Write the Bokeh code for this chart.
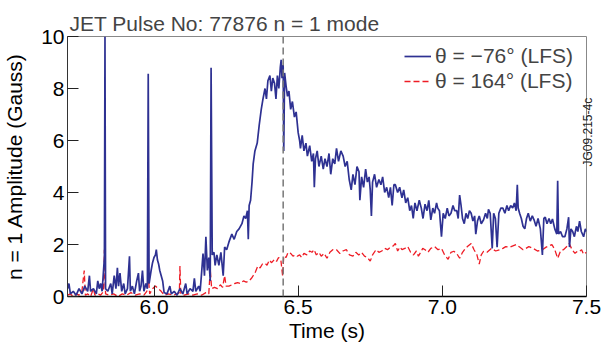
from bokeh.plotting import figure
from bokeh.models import (ColumnDataSource, Span, Legend, LegendItem, LinearAxis,
                          FixedTicker, PrintfTickFormatter, Range1d)
from bokeh.embed import file_html
from bokeh.resources import INLINE
import math

title_text = "JET Pulse No: 77876 n = 1 mode"
x_label = "Time (s)"
y_label = "n = 1 Amplitude (Gauss)"
series_names = ["\u03b8 = \u221276\u00b0 (LFS)", "\u03b8 = 164\u00b0 (LFS)"]
x_ticks = [6.0, 6.5, 7.0, 7.5]
y_ticks = [0, 2, 4, 6, 8, 10]
marker_time = 6.448
side_note = "JG09.215-4c"

blue_t = [5.700, 5.705, 5.710, 5.720, 5.730, 5.740, 5.750, 5.760, 5.770, 5.776,
          5.780, 5.790, 5.800, 5.805, 5.810, 5.815, 5.820, 5.828, 5.830, 5.832,
          5.840, 5.850, 5.855, 5.862, 5.868, 5.873, 5.877, 5.882, 5.888, 5.895,
          5.900, 5.908, 5.915, 5.918, 5.925, 5.932, 5.940, 5.946, 5.950, 5.955,
          5.960, 5.965, 5.972, 5.977, 5.980, 5.983, 5.990, 5.995, 6.000, 6.005,
          6.008, 6.012, 6.016, 6.020, 6.025, 6.030, 6.035, 6.045, 6.055, 6.060,
          6.070, 6.080, 6.090, 6.100, 6.110, 6.115, 6.125, 6.135, 6.140, 6.145,
          6.155, 6.160, 6.165, 6.170, 6.175, 6.180, 6.185, 6.190, 6.195, 6.198,
          6.202, 6.208, 6.212, 6.218, 6.225, 6.232, 6.240, 6.245, 6.252, 6.260,
          6.270, 6.278, 6.287, 6.295, 6.305, 6.312, 6.318, 6.324, 6.327, 6.330,
          6.335, 6.340, 6.344, 6.350, 6.358, 6.365, 6.372, 6.378, 6.385, 6.390,
          6.395, 6.402, 6.407, 6.412, 6.418, 6.423, 6.428, 6.433, 6.438, 6.441,
          6.444, 6.448, 6.450, 6.453, 6.458, 6.463, 6.468, 6.474, 6.480, 6.487,
          6.493, 6.500, 6.505, 6.508, 6.514, 6.520, 6.527, 6.532, 6.540, 6.547,
          6.553, 6.556, 6.560, 6.566, 6.572, 6.580, 6.587, 6.593, 6.600, 6.607,
          6.613, 6.620, 6.627, 6.633, 6.640, 6.648, 6.656, 6.663, 6.670, 6.677,
          6.684, 6.690, 6.697, 6.704, 6.711, 6.714, 6.720, 6.727, 6.734, 6.740,
          6.746, 6.750, 6.754, 6.758, 6.765, 6.772, 6.780, 6.787, 6.793, 6.800,
          6.807, 6.814, 6.820, 6.826, 6.832, 6.837, 6.845, 6.852, 6.860, 6.866,
          6.873, 6.880, 6.887, 6.893, 6.899, 6.905, 6.912, 6.920, 6.927, 6.933,
          6.940, 6.947, 6.953, 6.960, 6.967, 6.973, 6.980, 6.984, 6.990, 6.997,
          7.003, 7.010, 7.017, 7.023, 7.030, 7.037, 7.043, 7.050, 7.055, 7.060,
          7.065, 7.070, 7.076, 7.082, 7.088, 7.094, 7.100, 7.106, 7.112, 7.116,
          7.122, 7.128, 7.135, 7.143, 7.150, 7.156, 7.160, 7.166, 7.173, 7.178,
          7.184, 7.190, 7.196, 7.203, 7.210, 7.217, 7.224, 7.230, 7.237, 7.244,
          7.250, 7.256, 7.260, 7.263, 7.268, 7.274, 7.280, 7.286, 7.292, 7.298,
          7.305, 7.312, 7.318, 7.325, 7.332, 7.340, 7.347, 7.352, 7.357, 7.363,
          7.370, 7.376, 7.382, 7.390, 7.397, 7.400, 7.403, 7.410, 7.417, 7.425,
          7.432, 7.438, 7.441, 7.446, 7.452, 7.458, 7.465, 7.470, 7.476, 7.482,
          7.490, 7.496, 7.500]
blue_v = [0.3, 0.5, 0.1, 0.2, 0.05, 0.3, 0.1, 0.4, 0.2, 0.8,
          0.2, 0.3, 0.1, 0.6, 0.3, 0.5, 0.2, 1.5, 10.0, 0.3,
          0.2, 0.5, 0.1, 0.8, 0.3, 1.1, 0.4, 0.9, 0.2, 0.5,
          0.1, 0.3, 1.55, 0.2, 0.4, 0.1, 0.6, 0.9, 0.2, 0.4,
          1.0, 0.2, 0.5, 0.3, 8.57, 0.5, 1.0, 1.3, 1.5, 1.6,
          1.8, 1.4, 1.25, 1.0, 0.8, 0.6, 0.15, 0.1, 0.4, 0.1,
          0.2, 0.05, 0.3, 0.1, 0.5, 0.1, 0.3, 0.2, 0.7, 0.2,
          0.4, 0.2, 0.9, 1.65, 0.8, 2.3, 1.0, 1.5, 0.6, 8.8,
          1.6, 1.7, 1.2, 1.6, 1.2, 1.7, 0.8, 1.9, 1.8, 2.1,
          2.4, 2.2, 2.5, 2.6, 2.8, 3.1, 3.0, 3.3, 2.2, 3.5,
          3.7, 4.4, 5.1, 5.6, 5.9, 6.6, 7.2, 7.6, 8.0, 7.6,
          8.3, 8.5, 7.9, 8.4, 8.2, 7.6, 8.5, 8.0, 8.8, 9.1,
          8.4, 8.9, 5.6, 8.6, 8.1, 7.7, 7.9, 7.2, 7.5, 6.9,
          7.1, 6.3, 6.0, 5.7, 6.2, 5.6, 5.9, 5.4, 5.8, 5.2,
          5.5, 4.2, 5.3, 5.6, 5.0, 5.4, 4.9, 5.3, 5.0, 5.5,
          4.7, 5.3, 5.1, 5.7, 5.2, 5.6, 5.4, 5.0, 5.2, 4.5,
          4.1, 4.7, 4.3, 5.0, 4.8, 3.7, 4.6, 4.2, 4.9, 4.4,
          4.6, 4.1, 3.1, 4.4, 4.7, 4.2, 4.5, 4.3, 4.6, 4.0,
          4.2, 3.8, 4.2, 3.5, 4.3, 4.3, 4.0, 4.2, 3.8, 4.1,
          3.6, 3.8, 3.3, 3.5, 3.0, 3.6, 3.3, 3.7, 3.4, 3.0,
          3.55, 3.3, 3.7, 2.95, 3.4, 3.2, 3.6, 3.4, 3.3, 2.3,
          3.2, 3.0, 3.4, 3.1, 3.2, 3.5, 3.3, 3.3, 3.0, 3.9,
          3.5, 3.0, 2.8, 3.2, 3.0, 3.3, 3.2, 2.9, 3.1, 2.4,
          2.9, 3.1, 2.8, 2.95, 3.2, 3.0, 3.35, 3.2, 1.85, 3.2,
          3.0, 1.9, 3.2, 3.4, 3.4, 3.2, 3.5, 3.3, 3.5, 3.4,
          3.6, 3.3, 4.3, 3.4, 3.2, 3.0, 2.7, 2.6, 3.0, 3.2,
          2.9, 3.1, 2.95, 2.7, 3.0, 2.6, 1.6, 3.0, 3.05, 2.8,
          3.0, 2.8, 2.98, 2.6, 2.4, 4.45, 2.4, 2.5, 2.3, 2.3,
          2.6, 3.05, 1.9, 2.6, 2.5, 2.3, 2.7, 2.5, 2.9, 2.5,
          2.3, 2.6, 2.5]

red_t = [5.700, 5.710, 5.720, 5.730, 5.740, 5.750, 5.758, 5.762, 5.770, 5.780,
         5.790, 5.795, 5.805, 5.815, 5.825, 5.828, 5.832, 5.845, 5.860, 5.875,
         5.890, 5.905, 5.920, 5.935, 5.950, 5.965, 5.975, 5.980, 5.985, 5.995,
         6.005, 6.015, 6.025, 6.035, 6.050, 6.065, 6.080, 6.088, 6.090, 6.093,
         6.105, 6.120, 6.135, 6.150, 6.165, 6.180, 6.190, 6.195, 6.200, 6.210,
         6.220, 6.230, 6.238, 6.245, 6.250, 6.260, 6.270, 6.280, 6.290, 6.300,
         6.310, 6.320, 6.330, 6.338, 6.344, 6.352, 6.360, 6.368, 6.376, 6.385,
         6.392, 6.400, 6.408, 6.418, 6.425, 6.432, 6.440, 6.446, 6.450, 6.458,
         6.465, 6.474, 6.482, 6.490, 6.497, 6.505, 6.512, 6.520, 6.530, 6.540,
         6.548, 6.555, 6.563, 6.572, 6.580, 6.590, 6.600, 6.610, 6.620, 6.633,
         6.645, 6.655, 6.667, 6.678, 6.690, 6.700, 6.710, 6.720, 6.730, 6.740,
         6.750, 6.758, 6.770, 6.780, 6.790, 6.800, 6.810, 6.820, 6.830, 6.837,
         6.845, 6.853, 6.860, 6.870, 6.880, 6.890, 6.900, 6.910, 6.917, 6.925,
         6.932, 6.940, 6.950, 6.960, 6.973, 6.985, 6.997, 7.008, 7.020, 7.030,
         7.040, 7.050, 7.060, 7.070, 7.080, 7.087, 7.100, 7.110, 7.120, 7.128,
         7.135, 7.143, 7.155, 7.170, 7.185, 7.200, 7.210, 7.220, 7.235, 7.256,
         7.268, 7.280, 7.290, 7.300, 7.315, 7.330, 7.347, 7.360, 7.380, 7.390,
         7.400, 7.410, 7.420, 7.430, 7.440, 7.450, 7.460, 7.470, 7.476, 7.483,
         7.490, 7.500]
red_v = [0.05, 0.1, 0.0, 0.1, 0.05, 0.2, 1.0, 0.05, 0.1, 0.0,
         0.3, 0.05, 0.1, 0.05, 0.2, 1.8, 0.1, 0.05, 0.1, 0.0,
         0.1, 0.05, 0.15, 0.05, 0.1, 0.05, 0.2, 0.8, 0.1, 0.3,
         0.4, 0.3, 0.2, 0.05, 0.1, 0.05, 0.1, 0.15, 1.17, 0.1,
         0.05, 0.1, 0.05, 0.1, 0.05, 0.15, 0.1, 1.05, 0.3, 0.35,
         0.3, 0.45, 0.35, 0.8, 0.4, 0.4, 0.45, 0.5, 0.53, 0.5,
         0.6, 0.55, 0.6, 0.7, 0.8, 0.95, 1.17, 1.1, 1.25, 1.28,
         1.2, 1.4, 1.3, 1.43, 1.35, 1.5, 1.4, 0.8, 1.55, 1.5,
         1.7, 1.66, 1.55, 1.6, 1.55, 1.6, 1.5, 1.66, 1.6, 1.75,
         1.7, 1.8, 1.6, 1.7, 1.55, 1.66, 1.47, 1.7, 1.8, 1.8,
         1.65, 1.75, 1.8, 1.6, 1.55, 1.7, 1.6, 1.7, 1.55, 1.5,
         1.36, 1.6, 1.8, 1.7, 1.75, 1.85, 1.8, 1.9, 1.95, 2.04,
         1.75, 1.9, 1.8, 1.85, 1.92, 1.7, 1.6, 1.75, 1.55, 1.7,
         1.85, 1.8, 1.7, 1.85, 1.92, 1.8, 1.85, 1.6, 1.43, 1.7,
         1.74, 1.65, 1.47, 1.7, 1.85, 1.92, 2.04, 1.8, 1.6, 1.25,
         1.6, 1.74, 1.7, 1.85, 1.75, 1.8, 1.85, 1.92, 1.9, 2.0,
         1.9, 1.8, 1.85, 1.92, 1.85, 1.75, 1.8, 1.9, 2.0, 1.8,
         1.47, 1.75, 1.8, 1.9, 2.04, 1.8, 1.66, 1.75, 1.74, 1.8,
         1.62, 1.7]

FONT = "Liberation Sans"
FS = "21px"
BLUE = "#2E3192"
RED = "#EE1C25"

p = figure(width=604, height=344, output_backend="svg", toolbar_location=None,
           x_range=Range1d(5.70, 7.50), y_range=Range1d(0, 10),
           min_border_left=66, min_border_right=4, min_border_top=36,
           min_border_bottom=43)
p.background_fill_color = "white"
p.border_fill_color = "white"
p.outline_line_color = "#888888"
p.outline_line_width = 1
p.xgrid.visible = False
p.ygrid.visible = False

p.title.text = title_text
p.title.text_font = FONT
p.title.text_font_size = FS
p.title.text_font_style = "normal"
p.title.offset = 2
p.title.standoff = 4

src_b = ColumnDataSource(dict(t=blue_t, v=blue_v))
src_r = ColumnDataSource(dict(t=red_t, v=red_v))
r_red = p.line("t", "v", source=src_r, line_color=RED, line_width=1.3, line_dash="6 3")
r_blue = p.line("t", "v", source=src_b, line_color=BLUE, line_width=1.7)

p.add_layout(Span(location=marker_time, dimension="height", line_color="#777777",
                  line_width=1.5, line_dash="7 4"))

for ax in (p.xaxis[0], p.yaxis[0]):
    ax.major_tick_in = 11
    ax.major_tick_out = 0
    ax.minor_tick_line_color = None
    ax.major_label_text_font = FONT
    ax.major_label_text_font_size = FS
    ax.major_label_text_color = "black"
    ax.axis_label_text_font = FONT
    ax.axis_label_text_font_size = FS
    ax.axis_label_text_font_style = "normal"
    ax.axis_label_text_color = "black"
    ax.major_tick_line_color = "#222222"

p.xaxis.ticker = FixedTicker(ticks=x_ticks)
p.xaxis.formatter = PrintfTickFormatter(format="%.1f")
p.xaxis.axis_label = x_label
p.xaxis.major_label_standoff = 3
p.xaxis.axis_label_standoff = 2
p.xaxis.axis_line_color = "black"
p.xaxis.axis_line_width = 1.5

p.yaxis.ticker = FixedTicker(ticks=y_ticks)
p.yaxis.axis_label = y_label
p.yaxis.major_label_standoff = 3
p.yaxis.axis_label_standoff = 12
p.yaxis.axis_line_color = "#333333"
p.yaxis.axis_line_width = 1

legend = Legend(items=[LegendItem(label=series_names[0], renderers=[r_blue]),
                       LegendItem(label=series_names[1], renderers=[r_red])],
                location=(337, 203), border_line_color=None,
                background_fill_alpha=0, padding=0, spacing=1, margin=0,
                label_text_font=FONT, label_text_font_size=FS,
                glyph_width=27, glyph_height=24, label_height=24,
                label_standoff=4)
p.add_layout(legend)

# small figure reference code along the right edge, as an unticked right axis label
note_axis = LinearAxis(axis_label=side_note, ticker=FixedTicker(ticks=[]),
                       axis_line_color=None, major_tick_line_color=None,
                       minor_tick_line_color=None, major_tick_in=0, major_tick_out=0,
                       minor_tick_in=0, minor_tick_out=0,
                       major_label_text_font_size="1px", major_label_standoff=0,
                       axis_label_standoff=1, axis_label_text_font=FONT,
                       axis_label_text_font_size="12px",
                       axis_label_text_font_style="normal",
                       axis_label_text_color="#222222")
try:
    note_axis.axis_label_orientation = math.pi / 2
except Exception:
    pass
try:
    note_axis.axis_label_align = "right"
except Exception:
    pass
p.add_layout(note_axis, "right")

open("out.html", "w").write(file_html(p, INLINE))
